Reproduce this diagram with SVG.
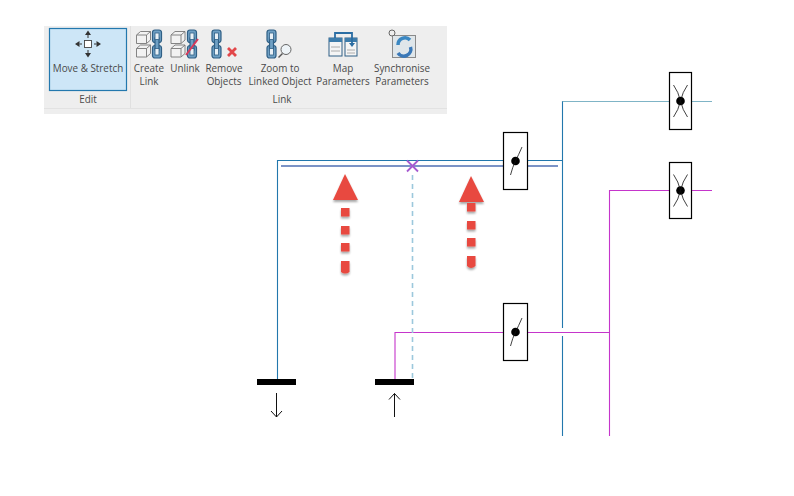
<svg xmlns="http://www.w3.org/2000/svg" width="794" height="496" viewBox="0 0 794 496">
<style>
.t{font-family:"Open Sans","Noto Sans","Liberation Sans",sans-serif;font-size:9.9px;fill:#4a4a4a;text-anchor:middle}
.c{fill:none;stroke-width:1.1}
.blue{stroke:#2277ad}.lb{stroke:#7fb4c6}.mag{stroke:#c535cb}
.box{fill:#fff;stroke:#000;stroke-width:1.2}
.blade{fill:none;stroke:#111;stroke-width:.8}
.red{fill:#e8493f}
.cube{fill:#f2f2f2;stroke:#777;stroke-width:.9}
.chain{fill:#6fa0c4;stroke:#2f5f85;stroke-width:1.2}
.link{fill:#e8f0f6;stroke:#2f5f85;stroke-width:.8}
</style>
<defs>
<filter id="sh" x="-30%" y="-30%" width="160%" height="160%"><feGaussianBlur in="SourceAlpha" stdDeviation="1"/><feOffset dy="1.5"/><feComponentTransfer><feFuncA type="linear" slope=".35"/></feComponentTransfer><feMerge><feMergeNode/><feMergeNode in="SourceGraphic"/></feMerge></filter>
<g id="chain"><rect class="chain" x="-4.500" y="-14" width="9" height="12.500" rx="2.500"/><rect class="chain" x="-4.500" y="1.500" width="9" height="12.500" rx="2.500"/><rect class="chain" x="-2" y="-6" width="4" height="12"/><rect class="link" x="-2" y="-11" width="4" height="6.500"/><rect class="link" x="-2" y="4.500" width="4" height="6.500"/></g>
<g id="cube"><path class="cube" d="M0 3.500 4 0H14V8.500L10 12H0Z"/><path class="cube" d="M0 3.500H10V12M10 3.500 14 0"/></g>
<g id="bal"><circle r="4.300" fill="#000"/><path class="blade" d="M-5 14Q-3 6 0 0T6.500 -14"/></g>
<g id="fire"><circle r="4.300" fill="#000"/><path class="blade" d="M-7 -16Q-2 -9 0 0T7 16M7 -16Q2 -9 0 0T-7 16"/></g>
</defs>

<g id="ribbon">
<rect x="44" y="26" width="403" height="88" fill="#eeeeee"/>
<rect x="44" y="108" width="403" height="1" fill="#e2e2e2"/>
<rect x="130" y="26" width="1" height="82" fill="#e0e0e0"/>
</g>
<g id="move-stretch">
<rect x="49.500" y="28.500" width="77" height="62" fill="#cde6f7" stroke="#2378ae" stroke-width="1.200"/>
<rect x="84.500" y="40.500" width="7" height="7" fill="#fff" stroke="#444" stroke-width=".9"/>
<path fill="#333" d="M88 30.500 91 35H85ZM88 57.500 91 53H85ZM75 44 79.500 41V47ZM101 44 96.500 41V47Z"/>
<path stroke="#333" fill="none" d="M88 35V38M88 50V53M79.500 44H82M94 44H96.500"/>
<text class="t" x="88" y="72">Move &amp; Stretch</text>
<text class="t" x="88" y="103">Edit</text>
</g>
<g id="create-link">
<use href="#cube" x="136.500" y="31.500"/><use href="#cube" x="136.500" y="45"/><use href="#chain" x="157" y="44"/>
<text class="t" x="149" y="72">Create</text><text class="t" x="149" y="85">Link</text>
</g>
<g id="unlink">
<use href="#cube" x="171" y="31.500"/><use href="#cube" x="171" y="45"/><use href="#chain" x="192" y="44"/>
<path d="M186 55 198 39" stroke="#d83a5a" stroke-width="2"/>
<text class="t" x="185" y="72">Unlink</text>
</g>
<g id="remove-objects">
<use href="#chain" x="216.500" y="44"/>
<path d="M228 48 236 56M236 48 228 56" stroke="#e2474a" stroke-width="2.800"/>
<text class="t" x="224" y="72">Remove</text><text class="t" x="224" y="85">Objects</text>
</g>
<g id="zoom-linked">
<use href="#chain" x="271.500" y="44"/>
<circle cx="286" cy="49.500" r="5" fill="#eef4f8" stroke="#666"/><path d="M282.500 53.500 278.500 57.500" stroke="#555" stroke-width="1.500"/>
<text class="t" x="280" y="72">Zoom to</text><text class="t" x="280" y="85">Linked Object</text>
<text class="t" x="282" y="103">Link</text>
</g>
<g id="map-parameters">
<rect x="329" y="38" width="13" height="18" fill="#f5f5f5" stroke="#2f5f85"/><rect x="329" y="38" width="13" height="4" fill="#3d7cab"/>
<rect x="345" y="38" width="12" height="18" fill="#f5f5f5" stroke="#2f5f85"/><rect x="345" y="38" width="12" height="4" fill="#3d7cab"/>
<path d="M335 38V33H352V44" fill="none" stroke="#2a6da3" stroke-width="1.800"/><path d="M349 43H355L352 47Z" fill="#2a6da3"/>
<path d="M331 47H340M331 51H340M347 50H355M347 53H355" stroke="#999" stroke-width=".8"/>
<text class="t" x="343" y="72">Map</text><text class="t" x="343" y="85">Parameters</text>
</g>
<g id="synchronise-parameters">
<rect x="392.500" y="35.500" width="23" height="22" fill="#dfe6ea" stroke="#8a8a8a"/>
<circle cx="392" cy="33" r="3" fill="#eee" stroke="#666"/>
<path d="M398 45A7 7 0 0 1 410 40" fill="none" stroke="#3a87c2" stroke-width="3.500"/>
<path d="M410.500 47A7 7 0 0 1 398 53" fill="none" stroke="#3a78b8" stroke-width="3.500"/>
<text class="t" x="402" y="72">Synchronise</text><text class="t" x="402" y="85">Parameters</text>
</g>

<g id="connectors">
<path class="c blue" d="M277.500 381V160.500H562.500"/>
<path class="c blue" d="M562.500 436V336M562.500 328V101"/>
<path class="c lb" d="M562.500 101.500H712"/>
<path class="c mag" d="M395 381V332.500H610"/>
<path class="c mag" d="M609.500 436V190.500H712"/>
<path d="M281 166H558" fill="none" stroke="#7b93c6" stroke-width="2"/>
<path d="M412.500 175V381" fill="none" stroke="#9cc8dc" stroke-width="1.600" stroke-dasharray="5 4"/>
<path d="M407 160.500 418 171.500M418 160.500 407 171.500" stroke="#a65ad0" stroke-width="1.800"/>
</g>

<g id="damper-1"><rect class="box" x="503.500" y="132.500" width="24" height="57"/><use href="#bal" x="515.500" y="161"/></g>
<g id="damper-2"><rect class="box" x="503.500" y="303.500" width="24" height="57"/><use href="#bal" x="515.500" y="332"/></g>
<g id="damper-3"><rect class="box" x="669.500" y="72.500" width="22" height="57"/><use href="#fire" x="680.500" y="101"/></g>
<g id="damper-4"><rect class="box" x="669.500" y="162.500" width="22" height="56"/><use href="#fire" x="680.500" y="190.500"/></g>

<g id="terminal-supply">
<rect x="257" y="379" width="39" height="6" fill="#000"/>
<path d="M276.500 393V417M271 411 276.500 417 282 411" fill="none" stroke="#111" stroke-width="1"/>
</g>
<g id="terminal-return">
<rect x="375" y="379" width="39" height="6" fill="#000"/>
<path d="M394.500 417V393.500M389 399.500 394.500 393.500 400 399.500" fill="none" stroke="#111" stroke-width="1"/>
</g>

<g id="red-arrow-1" class="red" filter="url(#sh)">
<path d="M345 174 358 200H333Z"/>
<rect x="341" y="208" width="8.500" height="8.500"/><rect x="341" y="226" width="8.500" height="8.500"/><rect x="341" y="243" width="8.500" height="8.500"/>
<path d="M341 261H349.500V272Q345 275 341 272Z"/>
</g>
<g id="red-arrow-2" class="red" filter="url(#sh)">
<path d="M471 176 484 202H459Z"/>
<rect x="467" y="203" width="8.500" height="8.500"/><rect x="467" y="221" width="8.500" height="8.500"/><rect x="467" y="238" width="8.500" height="8.500"/>
<path d="M467 256H475.500V266Q471 270 467 266Z"/>
</g>
</svg>
